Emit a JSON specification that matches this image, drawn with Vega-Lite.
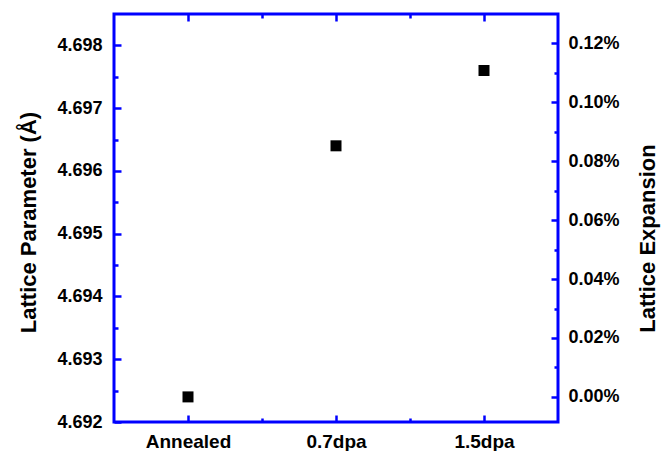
{
  "$schema": "https://vega.github.io/schema/vega-lite/v6.json",
  "autosize": "none",
  "width": 444,
  "height": 408,
  "padding": {"left": 114, "top": 14, "right": 112, "bottom": 29},
  "background": "white",
  "config": {
    "view": {"stroke": "#0000ff", "strokeWidth": 3},
    "font": "Liberation Sans",
    "axis": {
      "domain": false,
      "grid": false,
      "tickColor": "#0000ff",
      "tickWidth": 2.5,
      "labelFont": "Liberation Sans",
      "labelFontWeight": "bold",
      "labelFontSize": 18,
      "labelColor": "black",
      "titleFont": "Liberation Sans",
      "titleFontWeight": "bold",
      "titleFontSize": 22,
      "titleColor": "black"
    }
  },
  "data": {
    "values": [
      {"sample": "Annealed", "pos": 1, "a": 4.6924, "expansion": 0.0},
      {"sample": "0.7dpa", "pos": 2, "a": 4.6964, "expansion": 0.000845},
      {"sample": "1.5dpa", "pos": 3, "a": 4.6976, "expansion": 0.00111}
    ]
  },
  "layer": [
    {
      "mark": {"type": "square", "color": "black", "size": 121, "opacity": 1},
      "encoding": {
        "x": {
          "field": "pos", "type": "quantitative",
          "scale": {"domain": [0.5, 3.5], "nice": false, "zero": false},
          "axis": {
            "orient": "bottom", "title": null,
            "values": [1, 1.5, 2, 2.5, 3],
            "labelExpr": "datum.value == 1 ? 'Annealed' : datum.value == 2 ? '0.7dpa' : datum.value == 3 ? '1.5dpa' : ''",
            "tickSize": {"condition": {"test": "datum.value % 1 === 0", "value": -7}, "value": -4},
            "labelFontSize": 19,
            "labelPadding": 17
          }
        },
        "y": {
          "field": "a", "type": "quantitative",
          "scale": {"domain": [4.692, 4.6985], "nice": false, "zero": false},
          "axis": {
            "orient": "left", "title": "Lattice Parameter (Å)",
            "values": [4.692, 4.6925, 4.693, 4.6935, 4.694, 4.6945, 4.695, 4.6955, 4.696, 4.6965, 4.697, 4.6975, 4.698],
            "labelExpr": "abs(round(datum.value * 10000)) % 10 === 0 ? format(datum.value, '.3f') : ''",
            "tickSize": {"condition": {"test": "abs(round(datum.value * 10000)) % 10 === 0", "value": -7}, "value": -4},
            "labelPadding": 19,
            "titleAngle": -90,
            "titleX": -86,
            "titleY": 208,
            "titleAlign": "center",
            "titleBaseline": "middle"
          }
        }
      }
    },
    {
      "mark": {"type": "square", "color": "black", "size": 121, "opacity": 0},
      "encoding": {
        "x": {
          "field": "pos", "type": "quantitative",
          "scale": {"domain": [0.5, 3.5], "nice": false, "zero": false},
          "axis": {
            "orient": "top", "title": null, "labels": false,
            "values": [1, 1.5, 2, 2.5, 3],
            "tickSize": {"condition": {"test": "datum.value % 1 === 0", "value": -7}, "value": -4}
          }
        },
        "y": {
          "field": "expansion", "type": "quantitative",
          "scale": {"domain": [-0.0000852, 0.0013], "nice": false, "zero": false},
          "axis": {
            "orient": "right", "title": "Lattice Expansion",
            "values": [0, 0.0001, 0.0002, 0.0003, 0.0004, 0.0005, 0.0006, 0.0007, 0.0008, 0.0009, 0.001, 0.0011, 0.0012],
            "labelExpr": "round(datum.value * 10000) % 2 === 0 ? format(datum.value, '.2%') : ''",
            "tickSize": {"condition": {"test": "round(datum.value * 10000) % 2 === 0", "value": -7}, "value": -4},
            "labelPadding": 17,
            "titleAngle": -90,
            "titleX": 89,
            "titleY": 224,
            "titleAlign": "center",
            "titleBaseline": "middle"
          }
        }
      }
    }
  ],
  "resolve": {"scale": {"y": "independent"}, "axis": {"x": "independent", "y": "independent"}}
}
